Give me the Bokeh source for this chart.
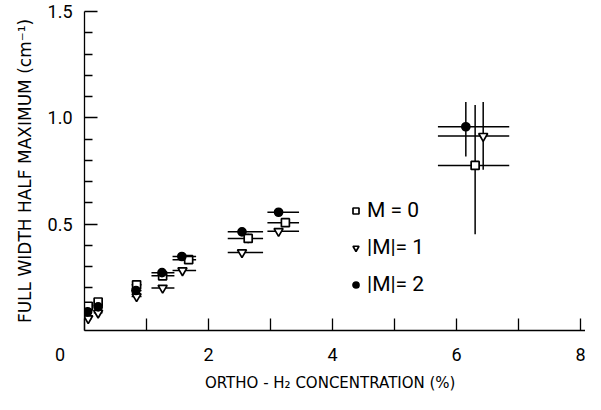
from bokeh.plotting import figure
from bokeh.models import FixedTicker, Legend, LegendItem, Range1d, ColumnDataSource
from bokeh.embed import file_html
from bokeh.resources import INLINE

# ---- data ----
# M = 0 (open squares)
m0_x   = [0.06, 0.22, 0.84, 1.26, 1.68, 2.64, 3.24, 6.30]
m0_y   = [0.114, 0.134, 0.215, 0.257, 0.333, 0.433, 0.507, 0.776]
m0_xlo = [0.00, 0.15, 0.76, 1.08, 1.42, 2.31, 2.95, 5.70]
m0_xhi = [0.12, 0.29, 0.92, 1.45, 1.80, 2.88, 3.46, 6.85]
m0_ylo = [0.114, 0.134, 0.215, 0.245, 0.318, 0.410, 0.490, 0.452]
m0_yhi = [0.114, 0.134, 0.215, 0.270, 0.348, 0.455, 0.525, 1.060]

# |M| = 1 (open inverted triangles)
m1_x   = [0.06, 0.22, 0.84, 1.26, 1.58, 2.54, 3.13, 6.43]
m1_y   = [0.057, 0.083, 0.160, 0.200, 0.282, 0.367, 0.467, 0.914]
m1_xlo = [0.00, 0.15, 0.76, 1.08, 1.42, 2.31, 2.95, 5.70]
m1_xhi = [0.12, 0.29, 0.92, 1.45, 1.80, 2.88, 3.46, 6.85]
m1_ylo = [0.057, 0.083, 0.160, 0.200, 0.282, 0.367, 0.452, 0.756]
m1_yhi = [0.057, 0.083, 0.160, 0.200, 0.282, 0.367, 0.482, 1.074]

# |M| = 2 (filled circles)
m2_x   = [0.05, 0.22, 0.83, 1.25, 1.57, 2.54, 3.13, 6.15]
m2_y   = [0.088, 0.111, 0.188, 0.272, 0.348, 0.464, 0.556, 0.958]
m2_xlo = [0.00, 0.15, 0.76, 1.08, 1.42, 2.31, 2.95, 5.70]
m2_xhi = [0.12, 0.29, 0.92, 1.45, 1.80, 2.88, 3.46, 6.85]
m2_ylo = [0.088, 0.111, 0.188, 0.272, 0.348, 0.445, 0.556, 0.818]
m2_yhi = [0.088, 0.111, 0.188, 0.272, 0.348, 0.480, 0.556, 1.074]

labels = ["M = 0", "|M|= 1", "|M|= 2"]
x_ticks = [0, 1, 2, 3, 4, 5, 6, 7, 8]
x_tick_labels = {0: "0" + "\u00a0" * 11, 1: "", 2: "2", 3: "", 4: "4", 5: "",
                 6: "6", 7: "", 8: "8"}
y_major = [0.5, 1.0, 1.5]
y_minor = [0.1, 0.2, 0.3, 0.4, 0.6, 0.7, 0.8, 0.9, 1.1, 1.2, 1.3, 1.4]
x_title = "ORTHO - H\u2082  CONCENTRATION  (%)"
y_title = "FULL WIDTH HALF MAXIMUM (cm\u207B\u00B9)"

FONT = "Roboto"
TFONT = "DejaVu Sans"

p = figure(width=585, height=394, output_backend="svg", toolbar_location=None,
           x_range=Range1d(0, 8.08), y_range=Range1d(0, 1.5),
           min_border_left=84, min_border_right=0, min_border_top=11,
           min_border_bottom=58)
p.outline_line_color = None
p.grid.visible = False

xa = p.xaxis[0]
xa.ticker = FixedTicker(ticks=x_ticks)
xa.major_label_overrides = x_tick_labels
xa.major_tick_in = 12
xa.major_tick_out = 0
xa.minor_tick_in = 0
xa.minor_tick_out = 0
xa.axis_line_width = 1.3
xa.major_tick_line_width = 1.3
xa.major_label_text_font = FONT
xa.major_label_text_font_size = "18px"
xa.major_label_text_color = "black"
xa.major_label_standoff = 13
xa.axis_label = x_title
xa.axis_label_text_font = TFONT
xa.axis_label_text_font_size = "15px"
xa.axis_label_text_color = "black"
xa.axis_label_text_font_style = "normal"
xa.axis_label_standoff = 6

ya = p.yaxis[0]
ya.ticker = FixedTicker(ticks=y_major, minor_ticks=y_minor)
ya.major_label_overrides = {0.5: "0.5", 1.0: "1.0", 1.5: "1.5"}
ya.major_tick_in = 13
ya.major_tick_out = 0
ya.minor_tick_in = 8
ya.minor_tick_out = 0
ya.axis_line_width = 1.3
ya.major_tick_line_width = 1.3
ya.minor_tick_line_width = 1.3
ya.major_label_text_font = FONT
ya.major_label_text_font_size = "18px"
ya.major_label_text_color = "black"
ya.major_label_standoff = 12
ya.axis_label = y_title
ya.axis_label_text_font = TFONT
ya.axis_label_text_font_size = "17px"
ya.axis_label_text_color = "black"
ya.axis_label_text_font_style = "normal"
ya.axis_label_standoff = 10

series = [
    (m0_x, m0_y, m0_xlo, m0_xhi, m0_ylo, m0_yhi, "square", "white", 8),
    (m1_x, m1_y, m1_xlo, m1_xhi, m1_ylo, m1_yhi, "inverted_triangle", "white", 9),
    (m2_x, m2_y, m2_xlo, m2_xhi, m2_ylo, m2_yhi, "circle", "black", 8),
]

items = []
for i, (x, y, xlo, xhi, ylo, yhi, marker, fill, size) in enumerate(series):
    src = ColumnDataSource(dict(x=x, y=y, xlo=xlo, xhi=xhi, ylo=ylo, yhi=yhi))
    p.segment(x0="xlo", x1="xhi", y0="y", y1="y", source=src,
              line_color="black", line_width=1.5)
    p.segment(x0="x", x1="x", y0="ylo", y1="yhi", source=src,
              line_color="black", line_width=1.5)
    r = p.scatter(x="x", y="y", source=src, marker=marker, size=size,
                  fill_color=fill, line_color="black", line_width=1.7)
    items.append(LegendItem(label=labels[i], renderers=[r]))

legend = Legend(items=items, location=(264, 34), orientation="vertical",
                glyph_width=15, glyph_height=15, label_height=20, spacing=13,
                label_standoff=4, padding=0, margin=0,
                label_text_font=FONT, label_text_font_size="21px",
                label_text_color="black",
                border_line_color=None, background_fill_alpha=0)
p.add_layout(legend, "center")

open("out.html", "w").write(file_html(p, INLINE))
